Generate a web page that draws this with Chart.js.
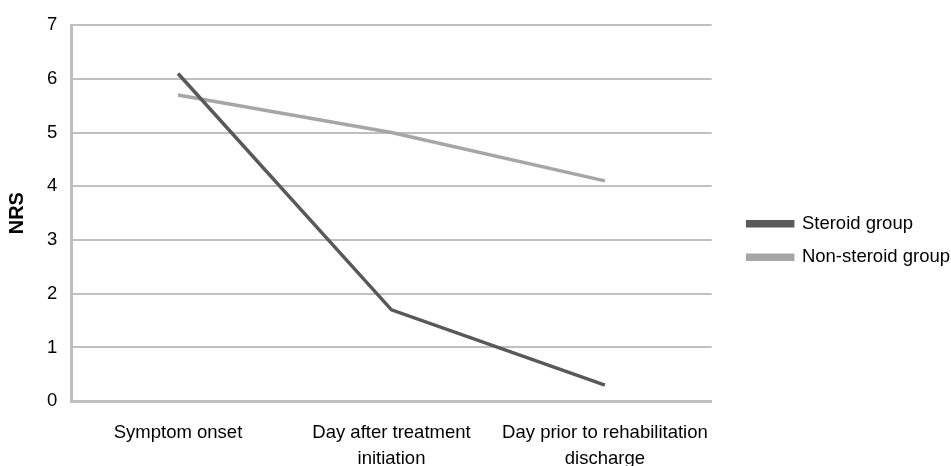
<!DOCTYPE html>
<html>
<head>
  <meta charset="utf-8">
  <title>NRS by group</title>
  <script src="https://cdn.jsdelivr.net/npm/chart.js"></script>
  <style>
    body { margin: 0; background: #fff; }
    #wrap { width: 951px; height: 466px; }
  </style>
</head>
<body>
  <div id="wrap"><canvas id="myChart"></canvas></div>
  <script>
    // data
    const categories = [
      'Symptom onset',
      ['Day after treatment', 'initiation'],
      ['Day prior to rehabilitation', 'discharge']
    ];
    const steroid = [6.1, 1.7, 0.3];
    const nonSteroid = [5.7, 5.0, 4.1];
    const yTicks = [0, 1, 2, 3, 4, 5, 6, 7];

    const gridColor = '#bfbfbf';
    const font = { family: '"Liberation Sans", Arial, sans-serif', size: 18.5 };

    // leave a wider gap between the plot and the legend, keep legend at the right edge
    const legendGap = {
      id: 'legendGap',
      afterInit(chart) {
        const fit = chart.legend.fit;
        chart.legend.fit = function () {
          fit.call(this);
          this.width += 12;
        };
      },
      afterLayout(chart) {
        const lg = chart.legend;
        lg.left += 21;
        lg.top -= 7;
        lg.bottom -= 7;
      }
    };

    new Chart(document.getElementById('myChart'), {
      type: 'line',
      data: {
        labels: categories,
        datasets: [{
          label: 'Steroid group',
          data: steroid,
          borderColor: '#595959',
          backgroundColor: '#595959',
          borderWidth: 3.5,
          pointRadius: 0,
          tension: 0
        }, {
          label: 'Non-steroid group',
          data: nonSteroid,
          borderColor: '#a6a6a6',
          backgroundColor: '#a6a6a6',
          borderWidth: 3.5,
          pointRadius: 0,
          tension: 0
        }]
      },
      options: {
        responsive: true,
        maintainAspectRatio: false,
        animation: false,
        layout: { padding: { top: 4, left: 1, right: 0, bottom: -25 } },
        plugins: {
          tooltip: { enabled: false },
          legend: {
            position: 'right',
            labels: {
              boxWidth: 45,
              boxHeight: 4,
              padding: 15,
              color: '#000',
              font: font
            }
          }
        },
        scales: {
          x: {
            offset: true,
            grid: { display: false, drawTicks: false },
            border: { display: true, color: gridColor, width: 3 },
            ticks: {
              color: '#000',
              font: Object.assign({ lineHeight: 1.4 }, font),
              padding: 19,
              maxRotation: 0,
              autoSkip: false
            }
          },
          y: {
            min: 0,
            max: 7,
            afterBuildTicks: axis => { axis.ticks = yTicks.map(v => ({ value: v })); },
            grid: { color: gridColor, lineWidth: 2, drawTicks: false },
            border: { display: true, color: gridColor, width: 3 },
            ticks: { color: '#000', font: font, padding: 14 },
            title: {
              display: true,
              text: 'NRS',
              color: '#000',
              font: { family: font.family, size: 20, weight: 'bold' }
            }
          }
        }
      },
      plugins: [legendGap]
    });
  </script>
</body>
</html>
